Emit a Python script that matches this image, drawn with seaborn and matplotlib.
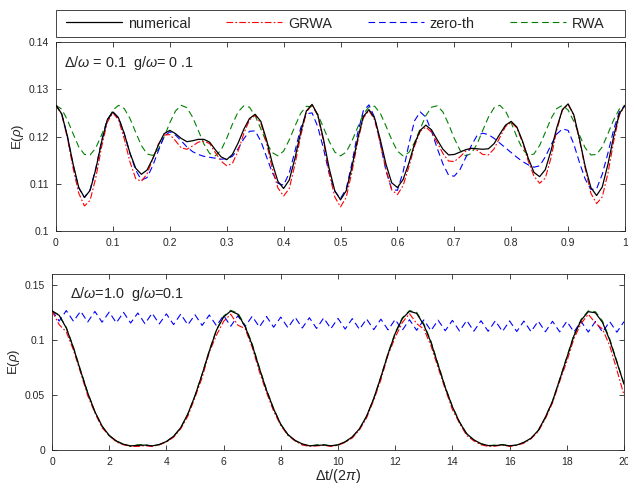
import numpy as np
import matplotlib
matplotlib.use("Agg")
import matplotlib.pyplot as plt
from matplotlib.lines import Line2D
from matplotlib.patches import Rectangle
import seaborn as sns

# ---- data ----
# top panel: Delta/omega = 0.1, g/omega = 0.1, x = 0 .. 1 step 0.01
t_top = np.round(np.arange(101) * 0.01, 2)

top_numerical = [
    0.1266, 0.1248, 0.1201, 0.1142, 0.1092, 0.1071, 0.1086, 0.1131, 0.1188, 0.1235,
    0.1252, 0.1239, 0.1206, 0.1165, 0.1133, 0.1120, 0.1129, 0.1153, 0.1182, 0.1206,
    0.1213, 0.1206, 0.1196, 0.1189, 0.1191, 0.1194, 0.1194, 0.1188, 0.1172, 0.1157,
    0.1151, 0.1162, 0.1186, 0.1215, 0.1238, 0.1247, 0.1232, 0.1193, 0.1144, 0.1105,
    0.1090, 0.1108, 0.1154, 0.1209, 0.1254, 0.1268, 0.1246, 0.1195, 0.1133, 0.1085,
    0.1066, 0.1085, 0.1135, 0.1194, 0.1242, 0.1257, 0.1239, 0.1193, 0.1141, 0.1102,
    0.1092, 0.1109, 0.1143, 0.1184, 0.1213, 0.1224, 0.1214, 0.1193, 0.1173, 0.1161,
    0.1162, 0.1167, 0.1172, 0.1175, 0.1174, 0.1173, 0.1174, 0.1185, 0.1205, 0.1224,
    0.1232, 0.1220, 0.1190, 0.1154, 0.1124, 0.1115, 0.1130, 0.1170, 0.1218, 0.1257,
    0.1269, 0.1246, 0.1195, 0.1137, 0.1092, 0.1075, 0.1093, 0.1141, 0.1200, 0.1248,
    0.1266,
]
top_grwa = [
    0.1266, 0.1247, 0.1197, 0.1133, 0.1080, 0.1053, 0.1065, 0.1113, 0.1177, 0.1230,
    0.1250, 0.1235, 0.1195, 0.1146, 0.1111, 0.1105, 0.1121, 0.1152, 0.1184, 0.1203,
    0.1204, 0.1191, 0.1176, 0.1173, 0.1180, 0.1188, 0.1190, 0.1185, 0.1166, 0.1148,
    0.1138, 0.1143, 0.1169, 0.1206, 0.1235, 0.1245, 0.1228, 0.1186, 0.1133, 0.1091,
    0.1074, 0.1090, 0.1141, 0.1201, 0.1251, 0.1268, 0.1244, 0.1190, 0.1123, 0.1072,
    0.1051, 0.1071, 0.1124, 0.1188, 0.1239, 0.1255, 0.1235, 0.1185, 0.1130, 0.1087,
    0.1077, 0.1096, 0.1135, 0.1179, 0.1211, 0.1220, 0.1209, 0.1187, 0.1164, 0.1148,
    0.1147, 0.1157, 0.1169, 0.1175, 0.1171, 0.1162, 0.1161, 0.1174, 0.1198, 0.1221,
    0.1230, 0.1218, 0.1187, 0.1148, 0.1116, 0.1101, 0.1112, 0.1155, 0.1213, 0.1256,
    0.1268, 0.1245, 0.1192, 0.1133, 0.1080, 0.1058, 0.1072, 0.1122, 0.1189, 0.1245,
    0.1266,
]
top_zeroth = [
    0.1266, 0.1248, 0.1200, 0.1140, 0.1091, 0.1071, 0.1088, 0.1133, 0.1190, 0.1236,
    0.1252, 0.1240, 0.1206, 0.1164, 0.1129, 0.1108, 0.1113, 0.1138, 0.1170, 0.1200,
    0.1210, 0.1203, 0.1191, 0.1178, 0.1168, 0.1162, 0.1158, 0.1156, 0.1154, 0.1152,
    0.1153, 0.1158, 0.1174, 0.1195, 0.1211, 0.1212, 0.1190, 0.1157, 0.1124, 0.1101,
    0.1097, 0.1123, 0.1169, 0.1218, 0.1248, 0.1250, 0.1221, 0.1175, 0.1122, 0.1084,
    0.1069, 0.1089, 0.1143, 0.1206, 0.1254, 0.1267, 0.1240, 0.1185, 0.1127, 0.1088,
    0.1086, 0.1125, 0.1183, 0.1233, 0.1252, 0.1241, 0.1211, 0.1175, 0.1142, 0.1118,
    0.1116, 0.1130, 0.1155, 0.1181, 0.1202, 0.1207, 0.1204, 0.1196, 0.1186, 0.1176,
    0.1166, 0.1156, 0.1147, 0.1140, 0.1135, 0.1138, 0.1157, 0.1182, 0.1205, 0.1216,
    0.1213, 0.1184, 0.1145, 0.1110, 0.1088, 0.1089, 0.1120, 0.1165, 0.1214, 0.1252,
    0.1266,
]
top_rwa = [
    0.1266, 0.1258, 0.1235, 0.1206, 0.1178, 0.1162, 0.1161, 0.1176, 0.1203, 0.1232,
    0.1256, 0.1266, 0.1259, 0.1238, 0.1209, 0.1181, 0.1163, 0.1160, 0.1173, 0.1199,
    0.1229, 0.1254, 0.1266, 0.1261, 0.1241, 0.1213, 0.1184, 0.1164, 0.1159, 0.1171,
    0.1196, 0.1226, 0.1252, 0.1265, 0.1262, 0.1244, 0.1216, 0.1187, 0.1166, 0.1159,
    0.1169, 0.1193, 0.1222, 0.1249, 0.1264, 0.1263, 0.1247, 0.1219, 0.1190, 0.1167,
    0.1159, 0.1167, 0.1190, 0.1219, 0.1247, 0.1263, 0.1264, 0.1249, 0.1222, 0.1193,
    0.1169, 0.1159, 0.1166, 0.1187, 0.1216, 0.1244, 0.1262, 0.1265, 0.1252, 0.1226,
    0.1196, 0.1171, 0.1159, 0.1164, 0.1184, 0.1213, 0.1241, 0.1261, 0.1266, 0.1254,
    0.1229, 0.1199, 0.1173, 0.1160, 0.1163, 0.1181, 0.1209, 0.1238, 0.1259, 0.1266,
    0.1256, 0.1232, 0.1203, 0.1176, 0.1161, 0.1162, 0.1178, 0.1206, 0.1235, 0.1258,
    0.1266,
]

# bottom panel: Delta/omega = 1.0, g/omega = 0.1, x = 0 .. 20 step 0.25
t_bot = np.arange(81) * 0.25

bot_numerical = [
    0.1265, 0.1225, 0.1110, 0.0930, 0.0720, 0.0520, 0.0350, 0.0220,
    0.0135, 0.0085, 0.0055, 0.0040, 0.0045, 0.0047, 0.0040, 0.0053,
    0.0080, 0.0127, 0.0205, 0.0330, 0.0495, 0.0690, 0.0900, 0.1090,
    0.1210, 0.1264, 0.1235, 0.1125, 0.0955, 0.0745, 0.0545, 0.0375,
    0.0235, 0.0143, 0.0090, 0.0058, 0.0041, 0.0044, 0.0048, 0.0041,
    0.0050, 0.0077, 0.0122, 0.0195, 0.0310, 0.0470, 0.0665, 0.0875,
    0.1060, 0.1195, 0.1262, 0.1243, 0.1138, 0.0980, 0.0775, 0.0570,
    0.0395, 0.0255, 0.0150, 0.0095, 0.0060, 0.0043, 0.0043, 0.0050,
    0.0041, 0.0048, 0.0072, 0.0110, 0.0180, 0.0300, 0.0445, 0.0640,
    0.0840, 0.1040, 0.1180, 0.1258, 0.1248, 0.1160, 0.1000, 0.0800,
    0.0600,
]
bot_grwa = [
    0.1265, 0.1140, 0.1075, 0.0910, 0.0705, 0.0495, 0.0340, 0.0205,
    0.0135, 0.0075, 0.0050, 0.0035, 0.0035, 0.0042, 0.0035, 0.0050,
    0.0075, 0.0118, 0.0195, 0.0310, 0.0480, 0.0660, 0.0890, 0.1045,
    0.1170, 0.1235, 0.1135, 0.1105, 0.0935, 0.0715, 0.0525, 0.0355,
    0.0225, 0.0135, 0.0085, 0.0048, 0.0036, 0.0040, 0.0045, 0.0036,
    0.0045, 0.0072, 0.0112, 0.0185, 0.0295, 0.0455, 0.0640, 0.0865,
    0.1025, 0.1160, 0.1240, 0.1150, 0.1100, 0.0950, 0.0750, 0.0555,
    0.0370, 0.0245, 0.0135, 0.0085, 0.0050, 0.0035, 0.0038, 0.0048,
    0.0035, 0.0045, 0.0065, 0.0105, 0.0170, 0.0285, 0.0430, 0.0625,
    0.0805, 0.1015, 0.1150, 0.1235, 0.1155, 0.1100, 0.0950, 0.0730,
    0.0500,
]
bot_rwa = [
    0.1265, 0.1228, 0.1115, 0.0935, 0.0725, 0.0522, 0.0350, 0.0218,
    0.0132, 0.0082, 0.0052, 0.0038, 0.0050, 0.0052, 0.0038, 0.0050,
    0.0078, 0.0125, 0.0203, 0.0328, 0.0495, 0.0692, 0.0905, 0.1095,
    0.1218, 0.1270, 0.1245, 0.1135, 0.0965, 0.0752, 0.0550, 0.0378,
    0.0235, 0.0140, 0.0087, 0.0055, 0.0039, 0.0050, 0.0052, 0.0039,
    0.0048, 0.0075, 0.0120, 0.0193, 0.0308, 0.0470, 0.0668, 0.0880,
    0.1068, 0.1203, 0.1268, 0.1252, 0.1148, 0.0990, 0.0782, 0.0575,
    0.0398, 0.0256, 0.0150, 0.0093, 0.0058, 0.0041, 0.0048, 0.0052,
    0.0040, 0.0046, 0.0070, 0.0108, 0.0178, 0.0298, 0.0445, 0.0642,
    0.0845, 0.1048, 0.1188, 0.1265, 0.1258, 0.1172, 0.1012, 0.0808,
    0.0605,
]

# zero-th order wiggles fast, so it gets a finer grid (step 0.125)
t_bot_zeroth = np.arange(161) * 0.125
bot_zeroth = [
    0.1270, 0.1221, 0.1173, 0.1220, 0.1268, 0.1219, 0.1171, 0.1217,
    0.1262, 0.1213, 0.1165, 0.1212, 0.1260, 0.1211, 0.1163, 0.1209,
    0.1254, 0.1205, 0.1157, 0.1204, 0.1252, 0.1203, 0.1155, 0.1201,
    0.1246, 0.1197, 0.1149, 0.1196, 0.1244, 0.1195, 0.1147, 0.1193,
    0.1238, 0.1189, 0.1141, 0.1188, 0.1236, 0.1187, 0.1139, 0.1185,
    0.1230, 0.1181, 0.1133, 0.1180, 0.1228, 0.1179, 0.1131, 0.1177,
    0.1223, 0.1174, 0.1126, 0.1173, 0.1221, 0.1172, 0.1124, 0.1170,
    0.1216, 0.1167, 0.1119, 0.1166, 0.1214, 0.1165, 0.1117, 0.1163,
    0.1209, 0.1160, 0.1112, 0.1159, 0.1207, 0.1158, 0.1110, 0.1156,
    0.1203, 0.1154, 0.1106, 0.1153, 0.1201, 0.1152, 0.1104, 0.1150,
    0.1197, 0.1148, 0.1100, 0.1147, 0.1195, 0.1146, 0.1098, 0.1145,
    0.1192, 0.1143, 0.1095, 0.1142, 0.1190, 0.1141, 0.1093, 0.1140,
    0.1187, 0.1138, 0.1090, 0.1137, 0.1185, 0.1137, 0.1089, 0.1136,
    0.1183, 0.1134, 0.1086, 0.1133, 0.1181, 0.1133, 0.1085, 0.1132,
    0.1179, 0.1130, 0.1082, 0.1130, 0.1178, 0.1129, 0.1081, 0.1129,
    0.1176, 0.1128, 0.1080, 0.1127, 0.1175, 0.1127, 0.1079, 0.1126,
    0.1174, 0.1126, 0.1078, 0.1125, 0.1173, 0.1125, 0.1077, 0.1124,
    0.1172, 0.1124, 0.1076, 0.1123, 0.1171, 0.1123, 0.1075, 0.1123,
    0.1170, 0.1122, 0.1074, 0.1122, 0.1170, 0.1121, 0.1073, 0.1121,
    0.1169, 0.1121, 0.1073, 0.1120, 0.1168, 0.1120, 0.1072, 0.1120,
    0.1168,
]

labels = ["numerical", "GRWA", "zero-th", "RWA"]
top_xticks = [0, 0.1, 0.2, 0.3, 0.4, 0.5, 0.6, 0.7, 0.8, 0.9, 1]
top_xticklabels = ["0", "0.1", "0.2", "0.3", "0.4", "0.5", "0.6", "0.7", "0.8", "0.9", "1"]
top_yticks = [0.1, 0.11, 0.12, 0.13, 0.14]
top_yticklabels = ["0.1", "0.11", "0.12", "0.13", "0.14"]
bot_xticks = [0, 2, 4, 6, 8, 10, 12, 14, 16, 18, 20]
bot_yticks = [0, 0.05, 0.1, 0.15]
bot_yticklabels = ["0", "0.05", "0.1", "0.15"]

# ---- style ----
sns.set_theme(style="ticks")
plt.rcParams["font.family"] = ["Liberation Sans", "DejaVu Sans"]
plt.rcParams["mathtext.fontset"] = "custom"
plt.rcParams["mathtext.rm"] = "Liberation Sans"
plt.rcParams["mathtext.it"] = "Liberation Sans:italic"
plt.rcParams["mathtext.fallback"] = "cm"

ink = "#262626"
green = (0.0, 0.5, 0.0)
styles = {
    "numerical": dict(color="black", linestyle="-", linewidth=0.9, zorder=4),
    "GRWA": dict(color="red", linestyle=(0, (6, 2, 1.5, 2)), linewidth=0.8, zorder=3),
    "zero-th": dict(color="blue", linestyle=(0, (6, 3.5)), linewidth=0.8, zorder=2),
    "RWA": dict(color=green, linestyle=(0, (6, 3.5)), linewidth=0.8, zorder=1),
}
txt_size = 10.4
W, H = 628, 487

fig = plt.figure(figsize=(6.28, 4.87), dpi=100)
ax_top = fig.add_axes([56 / W, 1 - 231 / H, 569 / W, 189 / H])
ax_bot = fig.add_axes([52 / W, 1 - 450.3 / H, 572 / W, 176.3 / H])


def style_axes(ax):
    for sp in ax.spines.values():
        sp.set_color(ink)
        sp.set_linewidth(0.6)
    ax.tick_params(direction="in", top=True, right=True, length=3.5,
                   width=0.6, color=ink, labelcolor=ink, labelsize=7.5, pad=5)


# top panel
top_series = [top_numerical, top_grwa, top_zeroth, top_rwa]
for name, vals in zip(labels, top_series):
    sns.lineplot(x=t_top, y=vals, ax=ax_top, legend=False, **styles[name])
ax_top.set_xlim(0, 1)
ax_top.set_ylim(0.1, 0.14)
ax_top.set_xticks(top_xticks, top_xticklabels)
ax_top.set_yticks(top_yticks, top_yticklabels)
ax_top.set_xlabel("")
ax_top.set_ylabel(r"E($\rho$)", fontsize=9.5, color=ink, labelpad=2)
ax_top.text(0.014, 0.89, r"$\Delta/\omega$ = 0.1  g/$\omega$= 0 .1",
            transform=ax_top.transAxes, fontsize=txt_size, color=ink, va="center")
style_axes(ax_top)

# bottom panel
bot_data = [(t_bot, bot_numerical), (t_bot, bot_grwa),
            (t_bot_zeroth, bot_zeroth), (t_bot, bot_rwa)]
for name, (xs, vals) in zip(labels, bot_data):
    sns.lineplot(x=xs, y=vals, ax=ax_bot, legend=False, **styles[name])
ax_bot.set_xlim(0, 20)
ax_bot.set_ylim(0, 0.16)
ax_bot.set_xticks(bot_xticks, [str(v) for v in bot_xticks])
ax_bot.set_yticks(bot_yticks, bot_yticklabels)
ax_bot.set_xlabel(r"$\Delta$t/(2$\pi$)", fontsize=txt_size, color=ink, labelpad=0)
ax_bot.set_ylabel(r"E($\rho$)", fontsize=9.5, color=ink, labelpad=2)
ax_bot.text(0.031, 0.886, r"$\Delta/\omega$=1.0  g/$\omega$=0.1",
            transform=ax_bot.transAxes, fontsize=txt_size, color=ink, va="center")
style_axes(ax_bot)

# shared legend above the top panel: frame drawn by hand, entries left-packed
fig.add_artist(Rectangle((56 / W, 1 - 37 / H), 569 / W, 27 / H,
                         transform=fig.transFigure, facecolor="white",
                         edgecolor=ink, linewidth=0.6))
handles = [Line2D([], [], **{k: v for k, v in styles[n].items() if k != "zorder"})
           for n in labels]
leg = fig.legend(handles, labels, loc="center left",
                 bbox_to_anchor=(66 / W, 1 - 23.5 / H),
                 ncol=4, frameon=False, handlelength=3.9, handletextpad=0.4,
                 fontsize=txt_size, borderaxespad=0, borderpad=0,
                 columnspacing=2.45)
for txt in leg.get_texts():
    txt.set_color(ink)

fig.savefig("out.png", dpi=100)
